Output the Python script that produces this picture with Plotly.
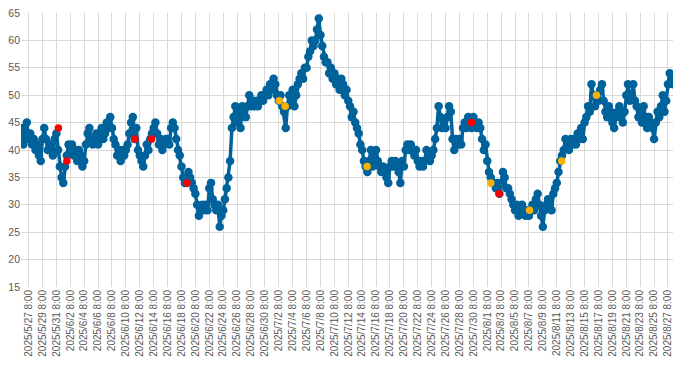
import pandas as pd
import plotly.graph_objects as go

# Series: 4 readings per day (every 6 h), starting 2025-05-26 08:00
start_time = "2025-05-26 08:00"
step_hours = 6
daily_values = [
    [44, 41, 43, 45],  # 5/26
    [42, 43, 41, 42],  # 5/27
    [40, 41, 39, 38],  # 5/28
    [42, 44, 42, 40],  # 5/29
    [40, 41, 39, 42],  # 5/30
    [43, 40, 37, 35],  # 5/31
    [34, 37, 39, 41],  # 6/1
    [40, 41, 39, 40],  # 6/2
    [38, 40, 39, 37],  # 6/3
    [38, 41, 43, 44],  # 6/4
    [42, 41, 42, 43],  # 6/5
    [41, 42, 44, 42],  # 6/6
    [43, 45, 44, 46],  # 6/7
    [44, 42, 41, 39],  # 6/8
    [40, 38, 40, 39],  # 6/9
    [40, 41, 43, 45],  # 6/10
    [46, 42, 44, 40],  # 6/11
    [39, 38, 37, 39],  # 6/12
    [41, 40, 42, 43],  # 6/13
    [44, 45, 43, 41],  # 6/14
    [42, 40, 41, 42],  # 6/15
    [42, 41, 44, 45],  # 6/16
    [44, 42, 40, 39],  # 6/17
    [37, 35, 34, 34],  # 6/18
    [36, 35, 34, 33],  # 6/19
    [32, 30, 28, 29],  # 6/20
    [30, 29, 30, 29],  # 6/21
    [33, 34, 31, 30],  # 6/22
    [29, 30, 26, 28],  # 6/23
    [29, 31, 33, 35],  # 6/24
    [38, 44, 46, 48],  # 6/25
    [45, 47, 44, 48],  # 6/26
    [47, 46, 48, 50],  # 6/27
    [48, 49, 48, 49],  # 6/28
    [48, 49, 50, 49],  # 6/29
    [50, 51, 50, 52],  # 6/30
    [51, 53, 52, 50],  # 7/1
    [49, 50, 48, 47],  # 7/2
    [44, 48, 50, 49],  # 7/3
    [51, 48, 50, 52],  # 7/4
    [53, 54, 53, 55],  # 7/5
    [55, 57, 58, 60],  # 7/6
    [59, 60, 62, 64],  # 7/7
    [61, 59, 57, 56],  # 7/8
    [56, 54, 55, 53],  # 7/9
    [54, 52, 53, 51],  # 7/10
    [53, 52, 50, 51],  # 7/11
    [49, 48, 46, 47],  # 7/12
    [45, 44, 43, 41],  # 7/13
    [40, 38, 37, 36],  # 7/14
    [38, 40, 37, 39],  # 7/15
    [40, 38, 37, 36],  # 7/16
    [37, 36, 35, 34],  # 7/17
    [37, 38, 37, 38],  # 7/18
    [37, 36, 34, 38],  # 7/19
    [37, 40, 41, 40],  # 7/20
    [41, 40, 39, 40],  # 7/21
    [38, 37, 38, 37],  # 7/22
    [38, 40, 39, 38],  # 7/23
    [39, 40, 42, 44],  # 7/24
    [48, 46, 44, 45],  # 7/25
    [44, 46, 48, 47],  # 7/26
    [42, 40, 42, 41],  # 7/27
    [42, 41, 44, 45],  # 7/28
    [44, 46, 45, 44],  # 7/29
    [46, 45, 44, 45],  # 7/30
    [44, 42, 40, 41],  # 7/31
    [38, 36, 35, 34],  # 8/1
    [34, 33, 34, 32],  # 8/2
    [34, 36, 35, 33],  # 8/3
    [33, 32, 31, 30],  # 8/4
    [29, 30, 28, 29],  # 8/5
    [30, 29, 28, 29],  # 8/6
    [28, 29, 30, 29],  # 8/7
    [31, 32, 30, 28],  # 8/8
    [26, 29, 30, 31],  # 8/9
    [30, 29, 32, 33],  # 8/10
    [34, 36, 38, 39],  # 8/11
    [40, 42, 41, 40],  # 8/12
    [42, 41, 42, 41],  # 8/13
    [43, 42, 44, 42],  # 8/14
    [45, 46, 48, 47],  # 8/15
    [52, 50, 48, 50],  # 8/16
    [49, 51, 52, 49],  # 8/17
    [47, 46, 48, 47],  # 8/18
    [45, 44, 46, 47],  # 8/19
    [48, 46, 45, 47],  # 8/20
    [50, 52, 49, 50],  # 8/21
    [52, 49, 48, 46],  # 8/22
    [47, 45, 48, 46],  # 8/23
    [44, 46, 45, 44],  # 8/24
    [42, 45, 47, 46],  # 8/25
    [48, 50, 47, 49],  # 8/26
    [52, 54, 53, 52],  # 8/27
]

red_times = ["2025-05-31 15:00", "2025-06-01 20:00", "2025-06-11 15:00",
             "2025-06-14 01:00", "2025-06-19 03:00", "2025-07-30 01:00",
             "2025-08-03 01:00"]
red_values = [44, 38, 42, 42, 34, 45, 32]

orange_times = ["2025-07-02 10:00", "2025-07-03 06:00", "2025-07-15 01:00",
                "2025-08-01 20:00", "2025-08-07 10:00", "2025-08-12 01:00",
                "2025-08-17 01:00"]
orange_values = [49, 48, 37, 34, 29, 38, 50]

y_min, y_max, y_step = 15, 65, 5
x_first_tick = "2025-05-27 08:00"
x_range = ["2025-05-26 05:50", "2025-08-28 01:20"]

values = [v for day in daily_values for v in day]
times = pd.date_range(start_time, periods=len(values), freq=f"{step_hours}h")

BLUE = "#00629B"
RED = "#FF0000"
ORANGE = "#F9B000"
GRID = "#D9D9D9"
TXT = "#595959"

fig = go.Figure()
fig.add_trace(go.Scatter(
    x=times, y=values, mode="lines+markers",
    line=dict(color=BLUE, width=3.5),
    marker=dict(color=BLUE, size=8.5),
    showlegend=False, hoverinfo="x+y",
))
fig.add_trace(go.Scatter(
    x=pd.to_datetime(red_times), y=red_values, mode="markers",
    marker=dict(color=RED, size=7.5), showlegend=False,
))
fig.add_trace(go.Scatter(
    x=pd.to_datetime(orange_times), y=orange_values, mode="markers",
    marker=dict(color=ORANGE, size=7.5), showlegend=False,
))

# page body adds an 8px offset, so the figure is sized to fit the window
fig.update_layout(
    width=692, height=363,
    margin=dict(l=13, r=27, t=5, b=84, autoexpand=False),
    paper_bgcolor="white", plot_bgcolor="white",
    font=dict(family="Liberation Sans, Arial, sans-serif", size=10, color=TXT),
)
fig.update_xaxes(
    type="date", range=x_range, automargin=False,
    tick0=x_first_tick, dtick=2 * 24 * 3600 * 1000,
    tickformat="%Y/%-m/%-d %-H:%M", tickangle=-90,
    showgrid=True, gridcolor=GRID, gridwidth=1,
    zeroline=False, showline=False, ticks="",
    ticklabeloverflow="allow",
    tickfont=dict(size=10, color=TXT),
)
fig.update_yaxes(
    range=[y_min, y_max], tick0=y_min, dtick=y_step, automargin=False,
    showgrid=True, gridcolor=GRID, gridwidth=1,
    zeroline=False, showline=False, ticks="",
    ticklabeloverflow="allow",
    tickfont=dict(size=10.5, color=TXT),
)

fig.write_html("out.html")
